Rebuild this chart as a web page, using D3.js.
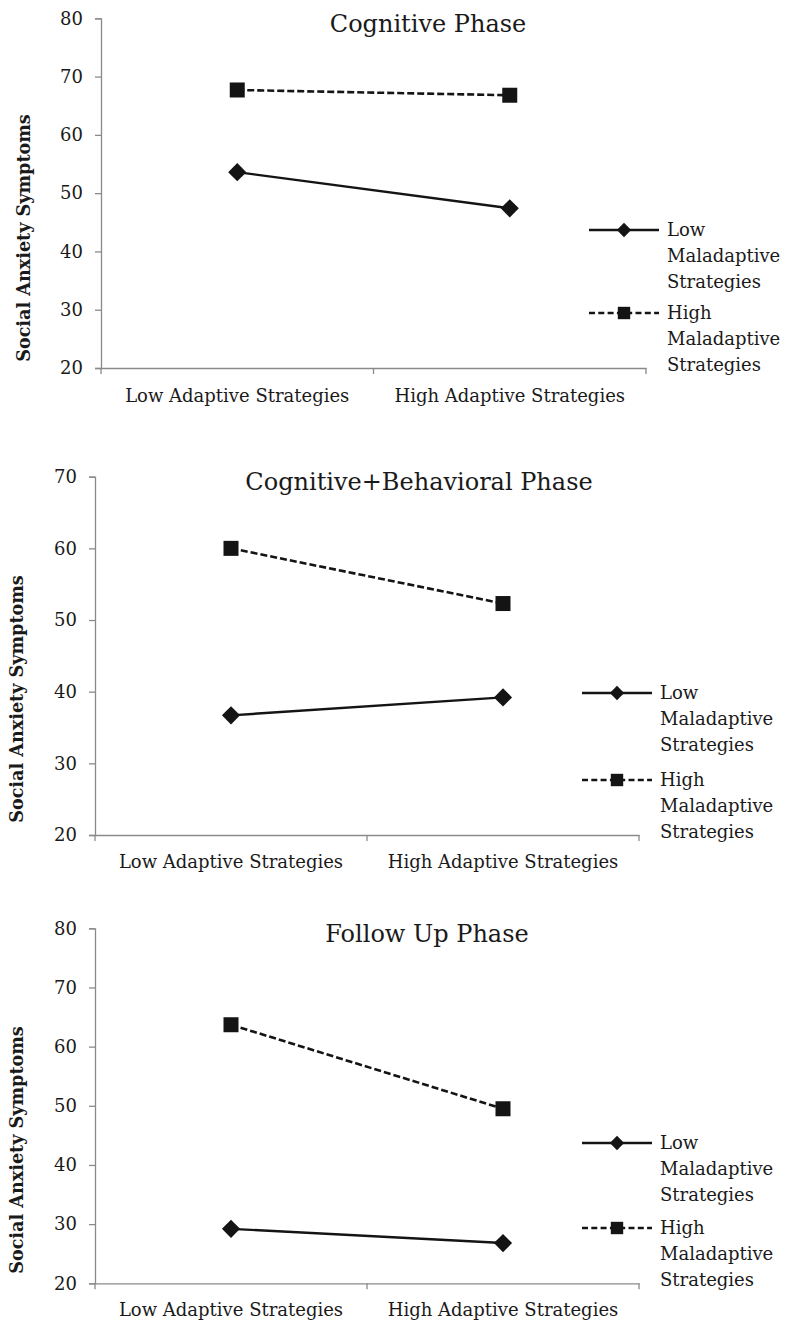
<!DOCTYPE html>
<html><head><meta charset="utf-8">
<script src="https://cdn.jsdelivr.net/npm/d3@7"></script>
<style>body{margin:0;background:#fff}svg{display:block}</style>
</head><body>
<svg id="c" width="786" height="1325"></svg>
<script>
// ---- data ----
const categories = ["Low Adaptive Strategies", "High Adaptive Strategies"];
const seriesNames = ["Low Maladaptive Strategies", "High Maladaptive Strategies"];
const legendLines = [["Low", "Maladaptive", "Strategies"], ["High", "Maladaptive", "Strategies"]];
const panelTitles = ["Cognitive Phase", "Cognitive+Behavioral Phase", "Follow Up Phase"];
const yLabel = "Social Anxiety Symptoms";
const lowMalCognitive = [53.6, 47.4];
const highMalCognitive = [67.7, 66.8];
const lowMalCogBeh = [36.7, 39.2];
const highMalCogBeh = [60.0, 52.3];
const lowMalFollowUp = [29.2, 26.8];
const highMalFollowUp = [63.7, 49.5];
const yTicks1 = [20, 30, 40, 50, 60, 70, 80];
const yTicks2 = [20, 30, 40, 50, 60, 70];
const yTicks3 = [20, 30, 40, 50, 60, 70, 80];

// ---- layout ----
const panels = [
  {title: panelTitles[0], low: lowMalCognitive, high: highMalCognitive, ticks: yTicks1,
   left: 101, right: 646, top: 18.3, bottom: 368, titleX: 428, titleY: 32,
   ylabX: 24, ylabY: 238, xlabY: 402, legX: 589, legRows: [230, 313]},
  {title: panelTitles[1], low: lowMalCogBeh, high: highMalCogBeh, ticks: yTicks2,
   left: 95, right: 639, top: 476.7, bottom: 835, titleX: 419, titleY: 490,
   ylabX: 17, ylabY: 699, xlabY: 868, legX: 582, legRows: [693, 780]},
  {title: panelTitles[2], low: lowMalFollowUp, high: highMalFollowUp, ticks: yTicks3,
   left: 95, right: 639, top: 928.3, bottom: 1283.3, titleX: 427, titleY: 942,
   ylabX: 17, ylabY: 1150, xlabY: 1316, legX: 582, legRows: [1143, 1228]}
];

const FONT = "'DejaVu Serif', serif";
const svg = d3.select("#c");
const axisColor = "#8a8a8a";
const textColor = "#1a1a1a";
const markColor = "#141414";

panels.forEach(p => {
  const g = svg.append("g");
  const x = d3.scaleBand().domain(categories).range([p.left, p.right]).padding(0);
  const y = d3.scaleLinear().domain([d3.min(p.ticks), d3.max(p.ticks)]).range([p.bottom, p.top]);
  const cx = c => x(c) + x.bandwidth() / 2;

  // y axis
  const ya = g.append("g").attr("transform", `translate(${p.left},0)`)
    .call(d3.axisLeft(y).tickValues(p.ticks).tickSize(6).tickPadding(12).tickFormat(d3.format("d")));
  ya.select(".domain").attr("stroke", axisColor).attr("stroke-width", 1.3);
  ya.selectAll(".tick line").attr("stroke", axisColor).attr("stroke-width", 1.3);
  ya.selectAll("text").attr("font-family", FONT).attr("font-size", 18).attr("fill", textColor);

  // x axis
  const xa = g.append("g").attr("transform", `translate(0,${p.bottom})`)
    .call(d3.axisBottom(x).tickSize(0).tickPadding(20));
  xa.select(".domain").attr("stroke", axisColor).attr("stroke-width", 1.3);
  xa.selectAll(".tick line").remove();
  xa.selectAll("text").attr("font-family", FONT).attr("font-size", 18).attr("fill", textColor)
    .attr("dy", null).attr("y", p.xlabY - p.bottom);
  const bounds = [p.left, p.left + x.bandwidth(), p.left + 2 * x.bandwidth()];
  xa.selectAll(".bt").data(bounds).enter().append("line")
    .attr("x1", d => d).attr("x2", d => d).attr("y1", 0).attr("y2", 6)
    .attr("stroke", axisColor).attr("stroke-width", 1.3);

  // title
  g.append("text").attr("x", p.titleX).attr("y", p.titleY).attr("text-anchor", "middle")
    .attr("font-family", FONT).attr("font-size", 24).attr("fill", textColor).text(p.title);

  // y label
  g.append("text").attr("transform", `translate(${p.ylabX + 6},${p.ylabY}) rotate(-90)`)
    .attr("text-anchor", "middle").attr("font-family", FONT).attr("font-weight", "bold")
    .attr("font-size", 17.6).attr("fill", textColor).text(yLabel);

  const line = d3.line().x((d, i) => cx(categories[i])).y(d => y(d));
  // high maladaptive (dashed, squares)
  g.append("path").datum(p.high).attr("d", line).attr("fill", "none")
    .attr("stroke", markColor).attr("stroke-width", 2.6).attr("stroke-dasharray", "7,3");
  g.selectAll(".sq").data(p.high).enter().append("rect")
    .attr("x", (d, i) => cx(categories[i]) - 7.5)
    .attr("y", d => y(d) - 7.5).attr("width", 15).attr("height", 15).attr("fill", markColor);
  // low maladaptive (solid, diamonds)
  g.append("path").datum(p.low).attr("d", line).attr("fill", "none")
    .attr("stroke", markColor).attr("stroke-width", 2.4);
  g.selectAll(".dm").data(p.low).enter().append("path")
    .attr("transform", (d, i) => `translate(${cx(categories[i])},${y(d)})`)
    .attr("d", d3.symbol().type(d3.symbolDiamond2).size(210)).attr("fill", markColor);

  // legend
  seriesNames.forEach((s, k) => {
    const ry = p.legRows[k];
    const lg = g.append("g");
    lg.append("line").attr("x1", p.legX).attr("x2", p.legX + 70).attr("y1", ry).attr("y2", ry)
      .attr("stroke", markColor).attr("stroke-width", 2.4)
      .attr("stroke-dasharray", k === 1 ? "6,3.3" : null);
    if (k === 0) {
      lg.append("path").attr("transform", `translate(${p.legX + 35},${ry})`)
        .attr("d", d3.symbol().type(d3.symbolDiamond2).size(130)).attr("fill", markColor);
    } else {
      lg.append("rect").attr("x", p.legX + 35 - 6.2).attr("y", ry - 6.2).attr("width", 12.4).attr("height", 12.4)
        .attr("fill", markColor);
    }
    legendLines[k].forEach((t, j) => {
      lg.append("text").attr("x", p.legX + 78).attr("y", ry + j * 25.7).attr("dy", "0.35em")
        .attr("font-family", FONT).attr("font-size", 18).attr("fill", textColor).text(t);
    });
  });
});
</script>
</body></html>
